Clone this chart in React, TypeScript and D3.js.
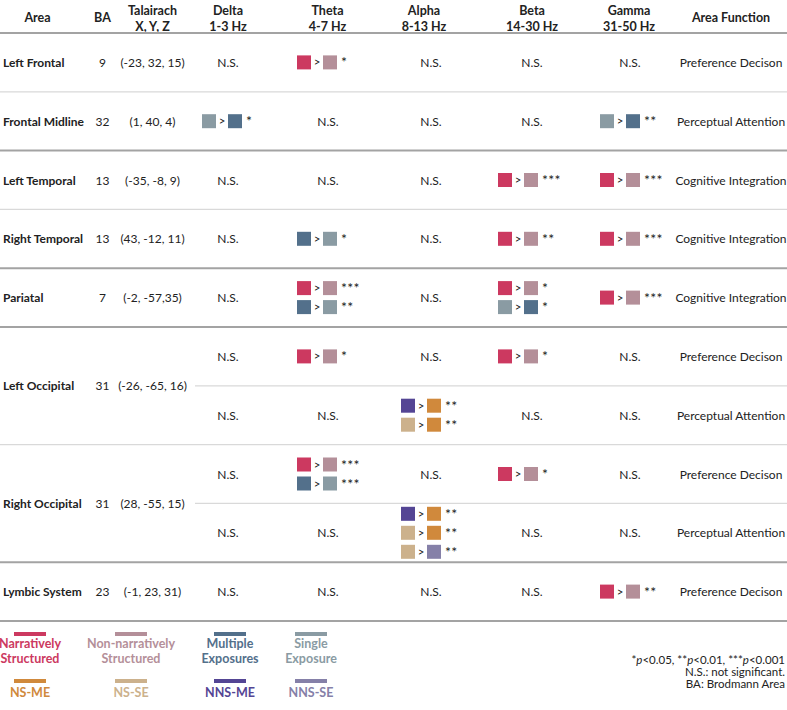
import React from "react";
import * as d3 from "d3";

// ---------- DATA ----------
const areaNames = ["Left Frontal", "Frontal Midline", "Left Temporal", "Right Temporal", "Pariatal", "Left Occipital", "Right Occipital", "Lymbic System"];
const baValues = ["9", "32", "13", "13", "7", "31", "31", "23"];
const talairachCoords = ["(-23, 32, 15)", "(1, 40, 4)", "(-35, -8, 9)", "(43, -12, 11)", "(-2, -57,35)", "(-26, -65, 16)", "(28, -55, 15)", "(-1, 23, 31)"];
const areaSubRows = [1, 1, 1, 1, 1, 2, 2, 1];
// lobe group index per area (thick separators between groups)
const areaGroups = [0, 0, 1, 1, 2, 3, 3, 4];

const bandNames = ["Delta", "Theta", "Alpha", "Beta", "Gamma"];
const bandRanges = ["1-3 Hz", "4-7 Hz", "8-13 Hz", "14-30 Hz", "31-50 Hz"];

type Cmp = [string, string, string];
// one entry per sub-row (10 sub-rows); null = N.S.
const deltaCells: (Cmp[] | null)[] = [null, [["SE", "ME", "*"]], null, null, null, null, null, null, null, null];
const thetaCells: (Cmp[] | null)[] = [
  [["NS", "NNS", "*"]], null, null, [["ME", "SE", "*"]],
  [["NS", "NNS", "***"], ["ME", "SE", "**"]],
  [["NS", "NNS", "*"]], null,
  [["NS", "NNS", "***"], ["ME", "SE", "***"]], null, null,
];
const alphaCells: (Cmp[] | null)[] = [
  null, null, null, null, null, null,
  [["NNSME", "NSME", "**"], ["NSSE", "NSME", "**"]], null,
  [["NNSME", "NSME", "**"], ["NSSE", "NSME", "**"], ["NSSE", "NNSSE", "**"]], null,
];
const betaCells: (Cmp[] | null)[] = [
  null, null, [["NS", "NNS", "***"]], [["NS", "NNS", "**"]],
  [["NS", "NNS", "*"], ["SE", "ME", "*"]],
  [["NS", "NNS", "*"]], null, [["NS", "NNS", "*"]], null, null,
];
const gammaCells: (Cmp[] | null)[] = [
  null, [["SE", "ME", "**"]], [["NS", "NNS", "***"]], [["NS", "NNS", "***"]], [["NS", "NNS", "***"]],
  null, null, null, null, [["NS", "NNS", "**"]],
];
const areaFunctions = [
  "Preference Decison", "Perceptual Attention", "Cognitive Integration", "Cognitive Integration", "Cognitive Integration",
  "Preference Decison", "Perceptual Attention", "Preference Decison", "Perceptual Attention", "Preference Decison",
];

const conditionKeys = ["NS", "NNS", "ME", "SE", "NSME", "NSSE", "NNSME", "NNSSE"];
const conditionLabels = [["Narratively", "Structured"], ["Non-narratively", "Structured"], ["Multiple", "Exposures"], ["Single", "Exposure"], ["NS-ME"], ["NS-SE"], ["NNS-ME"], ["NNS-SE"]];
const conditionColors = ["#CC3960", "#B48F99", "#53708B", "#8A9BA3", "#D0893C", "#CCB18C", "#544594", "#8580A8"];

const footnotes = ["N.S.: not significant.", "BA: Brodmann Area"];

// ---------- LAYOUT ----------
const W = 787, H = 710;
const FONT = "Lato, 'Open Sans', sans-serif";
const nSub = 10;
const yRow = d3.scaleLinear().domain([0, nSub]).range([33, 621]);
const color = d3.scaleOrdinal<string, string>().domain(conditionKeys).range(conditionColors);
const headerX = [37.5, 102.5, 152.5, 228, 327.5, 424, 532, 629, 731];
const bandCenter = [228, 328, 431, 532, 630];
const bandStart = [202, 297, 401, 498, 600];
const bandCells = [deltaCells, thetaCells, alphaCells, betaCells, gammaCells];

const TEXT = "#222";
const THICK = "#a3a3a3";
const THIN = "#d9d9d9";
const BODY = 12;

function Comparison({ x, y, c }: { x: number; y: number; c: Cmp }) {
  const s = 14;
  return (
    <g>
      <rect x={x} y={y} width={s} height={s} fill={color(c[0])} />
      <text x={x + 20} y={y + 11} textAnchor="middle" fontSize={11.5} fill={TEXT}>&gt;</text>
      <rect x={x + 26} y={y} width={s} height={s} fill={color(c[1])} />
      <text x={x + 44} y={y + 12} fontSize={14} fill={TEXT} letterSpacing={0.3}>{c[2]}</text>
    </g>
  );
}

export default function App() {
  const starts: number[] = [];
  areaSubRows.reduce((acc, n) => { starts.push(acc); return acc + n; }, 0);

  const lines: JSX.Element[] = [];
  lines.push(<line key="h" x1={0} x2={W} y1={yRow(0)} y2={yRow(0)} stroke={THICK} strokeWidth={2} />);
  areaNames.forEach((_, i) => {
    const endRow = starts[i] + areaSubRows[i];
    const y = yRow(endRow);
    const thick = i === areaNames.length - 1 || areaGroups[i + 1] !== areaGroups[i];
    lines.push(<line key={"a" + i} x1={0} x2={W} y1={y} y2={y} stroke={thick ? THICK : THIN} strokeWidth={thick ? 2 : 1.2} />);
    for (let k = 1; k < areaSubRows[i]; k++) {
      const ys = yRow(starts[i] + k);
      lines.push(<line key={"s" + i + k} x1={195} x2={W} y1={ys} y2={ys} stroke={THIN} strokeWidth={1.2} />);
    }
  });

  const legendX = [30, 131, 230, 311];
  return (
    <div style={{ position: "absolute", left: 0, top: 0 }}>
      <svg width={W} height={H} style={{ display: "block", fontFamily: FONT }}>
        <rect width={W} height={H} fill="#fff" />
        <g fontWeight={700} fontSize={12.5} fill={TEXT} textAnchor="middle">
          <text x={headerX[0]} y={21.5}>Area</text>
          <text x={headerX[1]} y={21.5}>BA</text>
          <text x={headerX[2]} y={14.5}>Talairach</text>
          <text x={headerX[2]} y={30.5}>X, Y, Z</text>
          {bandNames.map((b, i) => (
            <g key={b}>
              <text x={headerX[3 + i]} y={14.5}>{b}</text>
              <text x={headerX[3 + i]} y={30.5}>{bandRanges[i]}</text>
            </g>
          ))}
          <text x={headerX[8]} y={21.5}>Area Function</text>
        </g>
        {lines}
        {areaNames.map((a, i) => {
          const yc = (yRow(starts[i]) + yRow(starts[i] + areaSubRows[i])) / 2 + 4.5;
          return (
            <g key={a} fontSize={BODY} fill={TEXT}>
              <text x={3} y={yc} fontWeight={700}>{a}</text>
              <text x={headerX[1]} y={yc} textAnchor="middle">{baValues[i]}</text>
              <text x={headerX[2]} y={yc} textAnchor="middle">{talairachCoords[i]}</text>
            </g>
          );
        })}
        {d3.range(nSub).map((r) => {
          const yc = (yRow(r) + yRow(r + 1)) / 2;
          return (
            <g key={r} fontSize={BODY} fill={TEXT}>
              {bandCells.map((cells, b) => {
                const cell = cells[r];
                if (!cell) return <text key={b} x={bandCenter[b]} y={yc + 4.5} textAnchor="middle">N.S.</text>;
                const n = cell.length;
                return (
                  <g key={b}>
                    {cell.map((c, j) => (
                      <Comparison key={j} x={bandStart[b]} y={yc + (j - (n - 1) / 2) * 19 - 7} c={c} />
                    ))}
                  </g>
                );
              })}
              <text x={headerX[8]} y={yc + 4.5} textAnchor="middle">{areaFunctions[r]}</text>
            </g>
          );
        })}
        {conditionKeys.map((k, i) => {
          const row = Math.floor(i / 4);
          const x = legendX[i % 4];
          const by = row === 0 ? 632 : 679;
          const ty = row === 0 ? 648 : 697;
          return (
            <g key={k} fill={color(k)} fontSize={12.5} fontWeight={700} textAnchor="middle">
              <rect x={x - 16} y={by} width={32} height={4} fill={color(k)} />
              {conditionLabels[i].map((l, j) => (
                <text key={j} x={x} y={ty + j * 15}>{l}</text>
              ))}
            </g>
          );
        })}
        <g fontSize={11.5} fill={TEXT} textAnchor="end">
          <text x={785} y={664}>
            *<tspan fontStyle="italic">p</tspan>&lt;0.05, **<tspan fontStyle="italic">p</tspan>&lt;0.01, ***<tspan fontStyle="italic">p</tspan>&lt;0.001
          </text>
          {footnotes.map((f, i) => (
            <text key={f} x={785} y={676 + i * 11.5}>{f}</text>
          ))}
        </g>
      </svg>
    </div>
  );
}
